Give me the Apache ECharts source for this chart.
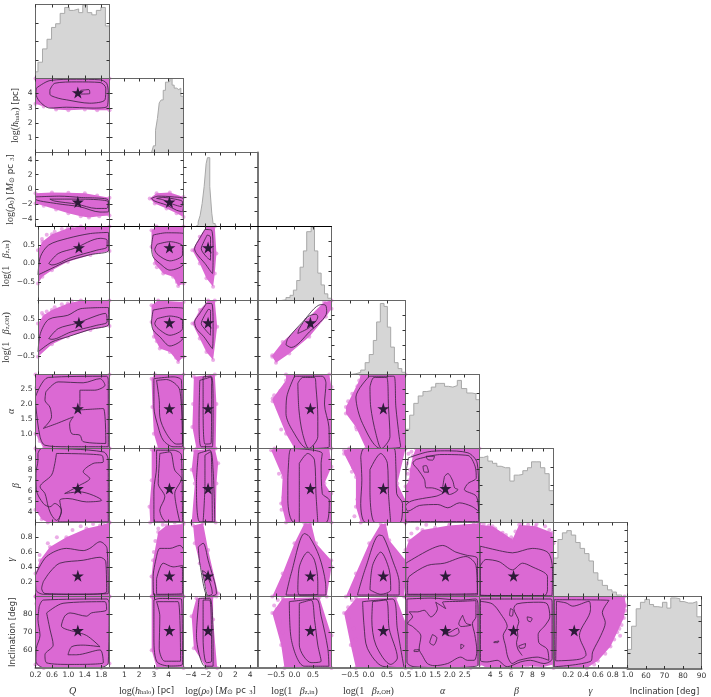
<!DOCTYPE html>
<html>
<head>
<meta charset="utf-8">
<style>
  html, body { margin: 0; padding: 0; background: #fff; }
  #chart { width: 711px; height: 697px; }
</style>
<script src="https://cdn.jsdelivr.net/npm/echarts@6/dist/echarts.min.js"></script>
</head>
<body>
<div id="chart"></div>
<script>
// parameter order: Q, H = log h_halo, R = log rho0, I = beta z,in, O = beta z,OH, A = alpha, B = beta, G = gamma, N = inclination
const ranges = [[0.2, 2], [0, 5], [-5, 5], [-1, 1], [-1, 1], [0.5, 3], [3, 10], [0, 1], [50, 90]];
const decimals = [1, 0, 0, 1, 1, 1, 0, 1, 0];
const xTicks = [
  [0.2, 0.6, 1.0, 1.4, 1.8], [1, 2, 3, 4], [-4, -2, 0, 2, 4], [-0.5, 0, 0.5], [-0.5, 0, 0.5],
  [0.5, 1, 1.5, 2, 2.5], [4, 5, 6, 7, 8, 9], [0.2, 0.4, 0.6, 0.8, 1], [60, 70, 80, 90]
];
const yTicks = [
  [0.6, 1, 1.4, 1.8], [1, 2, 3, 4], [-4, -2, 0, 2, 4], [-0.5, 0, 0.5], [-0.5, 0, 0.5],
  [1, 1.5, 2, 2.5], [4, 5, 6, 7, 8, 9], [0.2, 0.4, 0.6, 0.8], [60, 70, 80]
];
const histTicks = [
  [0.25, 0.5, 0.75], [0.2, 0.4, 0.6, 0.8], [0.2, 0.4, 0.6, 0.8], [0.2, 0.4, 0.6, 0.8], [0.2, 0.4, 0.6, 0.8],
  [0.25, 0.5, 0.75], [0.25, 0.5, 0.75], [0.15, 0.3, 0.45, 0.6, 0.75, 0.9], [0.22, 0.44, 0.66, 0.88]
];
const trueValues = [1.23, 4.05, -1.68, 0.43, 0.4, 1.85, 6.22, 0.28, 71];

const xNames = [
  '{m|Q}',
  '{r|log(}{m|h}{s|halo}{r|)}{t| [pc]}',
  '{r|log(}{m|ρ}{s|0}{r|)}{t| [}{m|M}{s|⊙}{t| pc}{s|  3}{t|]}',
  '{r|log(1   }{m|β}{s|z,in}{r|)}',
  '{r|log(1   }{m|β}{s|z,OH}{r|)}',
  '{m|α}', '{m|β}', '{m|γ}', '{t|Inclination [deg]}'
];
const yGaps = [0, 15, 20, 27, 27, 19, 14, 17, 18];

// histograms: left bin edges (last one closes the range) and heights relative to the panel
const edgesQ = [0.2, 0.26, 0.37, 0.48, 0.59, 0.69, 0.8, 0.91, 1.02, 1.13, 1.25, 1.35, 1.46, 1.57, 1.68, 1.79, 1.9, 2];
const histQ = [0.09, 0.22, 0.4, 0.53, 0.69, 0.74, 0.88, 0.96, 0.92, 0.94, 0.89, 0.99, 0.89, 0.86, 0.92, 0.96, 0.71];
const edgesH = [2.84, 2.97, 3.11, 3.24, 3.36, 3.49, 3.63, 3.78, 3.92, 4.08, 4.23, 4.37, 4.53, 4.68, 4.82, 5];
const histH = [0.02, 0.09, 0.3, 0.46, 0.67, 0.71, 0.84, 0.95, 0.96, 1, 0.91, 0.87, 0.85, 0.87, 0.76];
const edgesR = [-3.38, -3.02, -2.75, -2.48, -2.21, -1.94, -1.76, -1.45, -1.18, -1, -0.72, -0.45];
const histR = [0.02, 0.06, 0.15, 0.31, 0.54, 0.85, 0.93, 0.54, 0.18, 0.04, 0.01];
const edgesI = [-0.36, -0.23, -0.12, -0.03, 0.06, 0.15, 0.24, 0.33, 0.45, 0.54, 0.63, 0.72, 0.81, 0.9, 1];
const histI = [0.01, 0.04, 0.07, 0.14, 0.27, 0.45, 0.67, 0.93, 0.99, 0.67, 0.37, 0.21, 0.09, 0.03];
const edgesO = [-0.48, -0.34, -0.21, -0.09, 0.02, 0.13, 0.22, 0.32, 0.42, 0.51, 0.6, 0.7, 0.8, 0.9, 1];
const histO = [0.01, 0.03, 0.06, 0.16, 0.27, 0.46, 0.71, 0.96, 0.92, 0.64, 0.37, 0.16, 0.08, 0.03];
const edgesA = [0.5, 0.64, 0.78, 0.93, 1.09, 1.22, 1.37, 1.52, 1.66, 1.82, 1.95, 2.1, 2.25, 2.39, 2.57, 2.74, 2.88, 3];
const histA = [0.26, 0.45, 0.61, 0.71, 0.77, 0.78, 0.83, 0.88, 0.88, 0.84, 0.83, 0.85, 0.92, 0.81, 0.75, 0.74, 0.66];
const edgesB = [3, 3.38, 3.79, 4.23, 4.64, 5.05, 5.46, 5.87, 6.28, 6.69, 7.1, 7.54, 7.92, 8.36, 8.77, 9.18, 9.59, 10];
const histB = [0.88, 0.9, 0.83, 0.8, 0.76, 0.74, 0.74, 0.56, 0.64, 0.65, 0.7, 0.74, 0.82, 0.82, 0.74, 0.66, 0.43];
const edgesG = [0, 0.06, 0.12, 0.18, 0.24, 0.3, 0.36, 0.42, 0.48, 0.54, 0.6, 0.66, 0.73, 0.79, 0.85, 0.92];
const histG = [0.52, 0.77, 0.86, 0.89, 0.83, 0.73, 0.65, 0.58, 0.48, 0.32, 0.22, 0.15, 0.09, 0.06, 0.02];
const edgesN = [50, 52.2, 54.7, 57, 59.4, 61.9, 64.1, 66.4, 68.9, 71.3, 73.4, 75.9, 78.3, 80.6, 83, 85.3, 87.5, 90];
const histN = [0.27, 0.59, 0.83, 0.92, 0.96, 0.89, 0.86, 0.85, 0.92, 0.84, 0.98, 0.97, 0.93, 0.91, 0.91, 0.93, 0.72];
const hists = [[edgesQ, histQ], [edgesH, histH], [edgesR, histR], [edgesI, histI], [edgesO, histO], [edgesA, histA], [edgesB, histB], [edgesG, histG], [edgesN, histN]];

// clouds and contours, [x, y] in data units; name = y param + x param
const cloudHQ = [[0.2, 5], [2, 5], [2, 2.85], [1.7, 2.85], [1.4, 2.9], [1, 2.85], [0.7, 2.9], [0.4, 3.1], [0.2, 3.3]];
const outerHQ = [[0.22, 4.35], [0.55, 4.86], [1.2, 4.95], [1.77, 4.91], [1.93, 4.68], [1.97, 4], [1.94, 3.1], [1.6, 3], [0.95, 3.06], [0.55, 3], [0.3, 3.45], [0.21, 4]];
const innerHQ = [[0.55, 4.23], [0.67, 4.68], [1.2, 4.77], [1.77, 4.73], [1.91, 4.35], [1.89, 3.56], [1.52, 3.33], [0.95, 3.56], [0.75, 3.67], [0.55, 3.94]];
const isleHQ = [[1.3, 4.2], [1.5, 4.25], [1.52, 3.98], [1.3, 3.95]];

const cloudRQ = [[0.2, -0.5], [0.6, -0.4], [1, -0.45], [1.4, -0.5], [1.7, -0.8], [2, -1.1], [2, -3.5], [1.75, -3.6], [1.5, -3.8], [1.3, -3.6], [1, -3.2], [0.7, -2.7], [0.4, -2.2], [0.2, -1.9]];
const outerRQ = [[0.2, -1], [0.79, -0.9], [1.28, -1.07], [1.97, -1.43], [1.98, -3], [1.77, -3.05], [1.28, -2.33], [0.71, -1.9], [0.2, -1.3]];
const innerRQ = [[0.55, -1.3], [1.2, -1.3], [1.97, -1.66], [1.93, -2.56], [1.68, -2.56], [1.2, -1.97], [0.67, -1.57]];
const cloudRH = [[2.72, -1.2], [3.18, -0.5], [4.08, -0.4], [5, -1], [5, -3.7], [4.53, -3.2], [3.85, -2.56], [3.06, -1.9]];
const outerRH = [[2.84, -1.2], [3.29, -0.9], [4.3, -1], [5, -1.3], [4.93, -3], [4.53, -2.8], [3.85, -2.1], [3.06, -1.57]];
const innerRH = [[3.18, -1.2], [3.63, -1.07], [4.3, -1.25], [4.93, -1.66], [4.86, -2.3], [4.3, -2], [3.63, -1.4]];

const cloudIQ = [[0.2, 0.36], [0.31, 0.59], [0.55, 0.79], [0.95, 0.95], [1.28, 1], [2, 1], [2, 0.34], [1.52, 0.23], [0.95, 0.05], [0.55, -0.18], [0.31, -0.36], [0.2, -0.54]];
const outerIQ = [[0.2, -0.31], [0.26, 0.18], [0.47, 0.5], [0.95, 0.68], [1.52, 0.81], [1.97, 0.84], [1.98, 0.36], [1.52, 0.24], [0.95, 0.07], [0.55, -0.13]];
const innerIQ = [[0.47, 0], [0.71, 0.27], [1.12, 0.41], [1.77, 0.68], [1.94, 0.63], [1.94, 0.45], [1.68, 0.36], [1.03, 0.16], [0.55, -0.04]];
const cloudIH = [[2.84, 0.9], [3.18, 1], [5, 1], [5, -0.54], [4.64, -0.61], [4.3, -0.36], [3.63, -0.27], [3.06, 0], [2.84, 0.45]];
const outerIH = [[2.95, 0.77], [3.85, 0.83], [5, 0.81], [5, 0], [4.08, -0.18], [3.4, 0], [2.95, 0.18], [2.84, 0.45]];
const innerIH = [[3.22, 0.52], [4.08, 0.59], [4.93, 0.47], [4.93, 0.23], [4.08, 0.07], [3.29, 0.23], [3.06, 0.38]];
const cloudIR = [[-1.9, 1], [-0.77, 1], [-0.55, 0.27], [-0.77, -0.27], [-1, -0.63], [-1.9, -0.4], [-2.8, 0], [-3.8, 0.36], [-2.8, 0.72]];
const outerIR = [[-2.1, 0.92], [-1.2, 0.9], [-1, 0.27], [-1.1, -0.27], [-2.1, 0], [-3.25, 0.27], [-3.5, 0.4], [-2.8, 0.68]];
const innerIR = [[-1.8, 0.77], [-1.35, 0.72], [-1.35, 0.09], [-1.9, 0.18], [-2.6, 0.4], [-2.25, 0.59]];

const cloudOQ = [[0.2, 0.38], [0.34, 0.6], [0.55, 0.74], [0.95, 0.92], [1.28, 1], [2, 1], [2, 0.31], [1.52, 0.2], [0.95, 0.02], [0.55, -0.18], [0.2, -0.52]];
const outerOQ = [[0.2, -0.39], [0.26, 0.11], [0.47, 0.49], [0.95, 0.6], [1.28, 0.78], [1.97, 0.81], [1.98, 0.36], [1.52, 0.22], [0.95, 0.02], [0.55, -0.12]];
const innerOQ = [[0.47, -0.03], [0.71, 0.24], [1.16, 0.38], [1.9, 0.65], [1.94, 0.42], [1.68, 0.33], [1.03, 0.15], [0.55, -0.05]];
const cloudOH = [[2.84, 0.87], [3.29, 1], [5, 0.96], [5, -0.52], [4.64, -0.66], [4.08, -0.39], [3.4, -0.3], [3, 0.02], [2.84, 0.42]];
const outerOH = [[2.95, 0.74], [4.08, 0.81], [5, 0.78], [5, 0.02], [4.08, -0.23], [3.4, 0.02], [2.95, 0.2], [2.84, 0.42]];
const innerOH = [[3.22, 0.51], [4.08, 0.58], [4.93, 0.47], [4.93, 0.24], [4.08, 0.06], [3.29, 0.24], [3.06, 0.38]];
const cloudOR = [[-1.67, 1], [-0.77, 1], [-0.45, 0.29], [-1, -0.61], [-1.9, -0.39], [-2.8, -0.03], [-3.8, 0.38], [-2.8, 0.74]];
const outerOR = [[-1.9, 0.92], [-1.2, 0.92], [-1, 0.29], [-1.1, -0.3], [-2.25, 0.02], [-3.25, 0.24], [-3.5, 0.42], [-2.8, 0.65]];
const innerOR = [[-1.67, 0.76], [-1.35, 0.74], [-1.35, 0.06], [-2, 0.2], [-2.6, 0.38], [-2.25, 0.56]];
const cloudOI = [[-0.6, -0.52], [-0.5, -0.68], [-0.14, -0.43], [0.4, 0.02], [0.85, 0.56], [1, 0.78], [1, 1], [0.8, 0.96], [0.31, 0.47], [-0.32, -0.12], [-0.6, -0.48]];
const outerOI = [[-0.23, -0.2], [-0.09, -0.27], [0.4, 0.15], [0.87, 0.69], [0.84, 0.87], [0.72, 0.89], [0.22, 0.42], [-0.18, -0.03]];
const innerOI = [[0.09, 0.11], [0.4, 0.27], [0.63, 0.56], [0.58, 0.63], [0.36, 0.56], [0.13, 0.24]];

const cloudAQ = [[0.2, 3], [2, 3], [2, 0.5], [0.4, 0.5], [0.3, 0.75], [0.2, 1]];
const outerAQ = [[0.2, 2.25], [0.51, 2.9], [1.93, 2.94], [1.97, 2.8], [1.97, 0.56], [0.95, 0.56], [0.43, 0.61], [0.31, 0.9], [0.21, 1.9]];
const innerAQ = [[0.45, 2.41], [0.75, 2.75], [1.36, 2.72], [1.77, 2.86], [1.89, 2.64], [1.64, 2.47], [1.28, 2.47], [1.28, 1.96], [1.24, 1.8], [1.85, 1.85], [1.91, 0.67], [1.36, 0.73], [1.28, 0.95], [1.08, 1], [1.03, 1.34], [1.12, 1.57], [0.71, 1.34], [0.39, 1.18], [0.59, 1.57], [0.55, 1.9], [0.43, 2.13]];
const cloudAH = [[2.84, 2.86], [3.06, 3], [5, 3], [5, 0.5], [3.29, 0.5], [3, 1], [2.9, 1.9]];
const outerAH = [[3, 2.86], [4.3, 2.92], [4.86, 2.8], [4.93, 0.56], [4.3, 0.56], [3.63, 0.78], [3.29, 1.23], [3, 1.9]];
const innerAH = [[3.18, 2.8], [3.85, 2.83], [4.75, 2.47], [4.93, 0.67], [4.53, 0.65], [3.85, 1], [3.4, 1.57], [3.36, 2.13]];
const cloudAR = [[-3.6, 2.92], [-0.77, 3], [-0.55, 2], [-0.65, 0.5], [-3.25, 0.5], [-3.8, 1.23], [-3.7, 2]];
const outerAR = [[-2.8, 2.8], [-1.2, 2.92], [-1, 1.9], [-1.1, 0.56], [-2.6, 0.56], [-2.9, 1.46]];
const innerAR = [[-2.35, 2.92], [-1.35, 2.94], [-1.2, 2.7], [-1.27, 0.67], [-2.1, 0.65], [-2.35, 2]];
const cloudAI = [[-0.59, 2.19], [-0.23, 2.8], [-0.23, 3], [0.94, 3], [1, 2.58], [1, 0.5], [0, 0.5], [-0.23, 1], [-0.59, 2.1]];
const outerAI = [[0, 2.94], [0.75, 2.94], [0.85, 2.7], [0.81, 2], [0.93, 1.23], [0.94, 0.56], [0.36, 0.5], [-0.05, 1.1], [-0.23, 1.68], [-0.21, 2.24]];
const innerAI = [[0.09, 2.7], [0.22, 2.9], [0.54, 2.9], [0.58, 2.58], [0.63, 1.57], [0.63, 0.9], [0.39, 0.5], [0.22, 1], [0.12, 1.8]];
const cloudAO = [[-0.61, 1.9], [-0.25, 2.8], [-0.21, 3], [1, 3], [1, 0.5], [-0.07, 0.5], [-0.34, 1.23], [-0.61, 1.68]];
const outerAO = [[0.02, 2.94], [0.69, 2.94], [0.74, 1.9], [0.83, 0.9], [0.87, 0.56], [0.33, 0.5], [-0.16, 1.34], [-0.34, 2.24]];
const innerAO = [[0.04, 2.58], [0.15, 2.9], [0.49, 2.9], [0.54, 1.9], [0.58, 0.9], [0.35, 0.5], [0.2, 1], [0.06, 1.9]];

const cloudBQ = [[0.2, 10], [2, 10], [2, 3], [0.5, 3], [0.35, 3.3], [0.2, 4.2]];
const outerBQ = [[0.26, 9.53], [0.34, 10], [1.85, 9.68], [1.97, 8.9], [1.97, 3.06], [0.75, 3.06], [0.83, 4.17], [0.67, 4.8], [0.55, 4.48], [0.39, 4.8], [0.22, 6.1], [0.21, 7.64], [0.26, 8.9]];
const innerBQ = [[0.71, 9.53], [1.81, 9.37], [1.85, 8.74], [1.6, 8.58], [1.36, 7.8], [1.52, 7.16], [1.28, 6.53], [0.91, 5.74], [1.28, 5.9], [1.81, 5.1], [1.44, 4.95], [0.99, 5.27], [0.79, 5.1], [0.83, 4], [0.71, 3.2], [0.59, 3.7], [0.51, 4.48], [0.43, 5.74], [0.31, 6.37], [0.59, 7.48], [0.67, 8.58]];
const cloudBH = [[2.85, 9.9], [3.1, 10], [5, 10], [5, 3], [2.75, 3], [2.7, 4.5], [2.85, 7]];
const outerBH = [[3.18, 9.84], [4.3, 9.84], [4.86, 9.37], [4.93, 3.06], [3, 3.06], [3, 6.06], [3.18, 8.27]];
const innerBH = [[3.4, 9.53], [4.08, 9.68], [4.41, 7.95], [4.86, 7.16], [4.41, 5.74], [4.75, 3.06], [3.85, 3.06], [3.4, 4.17], [3.74, 5.43], [3.29, 6.69], [3.36, 8.58]];
const cloudBR = [[-3.6, 9.84], [-0.77, 10], [-0.32, 8.6], [-0.55, 6.7], [-0.65, 3], [-3.9, 3], [-3.47, 6.7], [-3.9, 8]];
const outerBR = [[-3, 9.53], [-1.45, 9.84], [-1, 7.95], [-0.77, 3.06], [-2.8, 3.06], [-3.25, 6.7]];
const innerBR = [[-2.1, 9.37], [-1.35, 9.68], [-1.2, 8.3], [-1.1, 3.06], [-2.35, 3.06], [-2.1, 6.7]];
const cloudBI = [[-0.54, 10], [0.94, 10], [1, 8.27], [0.81, 6.7], [0.99, 5.75], [1, 3], [-0.23, 3], [-0.36, 4.8], [-0.32, 7.3], [-0.63, 9.84]];
const outerBI = [[-0.15, 9.2], [-0.08, 10], [0.75, 9.53], [0.72, 8.58], [0.75, 5.75], [0.94, 5.1], [0.85, 3], [0, 3], [-0.18, 5.1], [-0.18, 7]];
const innerBI = [[0.13, 8.6], [0.36, 9.53], [0.54, 8.9], [0.58, 5.75], [0.63, 3], [0.13, 3], [0.13, 6]];
const cloudBO = [[-0.66, 9.84], [-0.52, 10], [1, 10], [0.78, 6.7], [1, 5.1], [1, 3], [-0.21, 3], [-0.34, 4.5], [-0.34, 7.3], [-0.66, 9.5]];
const outerBO = [[-0.21, 9.2], [-0.12, 10], [0.69, 10], [0.74, 8.27], [0.76, 5.75], [0.92, 4.8], [0.85, 3], [-0.07, 3], [-0.21, 4.8], [-0.18, 7]];
const innerBO = [[0.04, 8], [0.33, 9.53], [0.51, 8.6], [0.54, 5.75], [0.6, 3], [0.18, 3], [0.04, 6]];
const cloudBA = [[0.85, 10], [3, 10], [3, 3], [0.5, 3], [0.5, 6.4], [0.62, 7], [0.65, 8], [0.75, 9.3]];
const outerBA = [[0.6, 9.12], [1.25, 9.68], [1.82, 9.78], [2.61, 9.59], [2.92, 8.64], [2.97, 6.12], [2.97, 3.09], [0.52, 3.09], [0.5, 4.23], [0.52, 7.7]];
const innerBA = [[0.86, 8.96], [1.7, 9.43], [2.61, 9.34], [2.85, 8.33], [2.89, 7.22], [2.61, 6.69], [2.49, 6.12], [2.89, 5.49], [2.97, 4.07], [2.72, 4.55], [2.32, 4.86], [1.93, 4.39], [1.59, 4.7], [0.97, 4.61], [0.58, 4.07], [0.5, 4.55], [0.69, 5.02], [1.2, 5.33], [1.54, 5.49], [1.76, 5.81], [1.37, 6.28], [1.2, 6.28], [1.14, 7.07], [0.92, 8.01], [0.75, 8.64]];
const isleBA1 = [[1.82, 7.38], [1.93, 7.63], [2.1, 6.91], [2.16, 6.28], [2.27, 6.12], [1.99, 5.65], [1.76, 6.28]];
const isleBA2 = [[1.2, 9.27], [1.48, 9.27], [1.42, 8.9], [1.25, 8.96]];
const isleBA3 = [[1.09, 8.33], [1.2, 8.39], [1.28, 7.76], [1.14, 7.76]];

const cloudGQ = [[0.2, 0.31], [0.31, 0.49], [0.55, 0.67], [0.95, 0.8], [1.44, 0.92], [1.77, 0.96], [2, 1], [2, 0], [0.2, 0]];
const outerGQ = [[0.2, 0.29], [0.47, 0.54], [0.95, 0.65], [1.36, 0.62], [1.52, 0.65], [1.77, 0.74], [1.94, 0.65], [1.97, 0.04], [0.39, 0.03], [0.21, 0.09]];
const innerGQ = [[0.39, 0.2], [0.55, 0.33], [0.79, 0.45], [1.36, 0.49], [1.77, 0.53], [1.91, 0.47], [1.93, 0.06], [1.36, 0.03], [0.43, 0.04], [0.35, 0.11]];
const cloudGH = [[2.95, 0.49], [3.29, 0.87], [3.85, 0.96], [5, 0.98], [5, 0], [2.84, 0], [2.84, 0.27]];
const outerGH = [[3.18, 0.54], [3.4, 0.65], [4.08, 0.65], [4.75, 0.69], [5, 0.63], [5, 0.02], [3, 0.02], [2.95, 0.27]];
const innerGH = [[3.18, 0.24], [3.63, 0.45], [4.3, 0.4], [4.93, 0.42], [4.93, 0.04], [3.18, 0.03]];
const cloudGR = [[-3.7, 0.96], [-2.35, 0.99], [-1.67, 0.63], [-0.32, 0.04], [-0.55, 0], [-1.67, 0], [-2.8, 0.45], [-3.47, 0.72]];
const outerGR = [[-3, 0.67], [-2.35, 0.72], [-1.67, 0.49], [-0.55, 0.04], [-1.67, 0], [-2.8, 0.45]];
const innerGR = [[-2.45, 0.35], [-1.9, 0.31], [-1.1, 0.04], [-1.67, 0.01], [-2.25, 0.24]];
const cloudGI = [[-0.6, 0], [-0.32, 0.31], [0, 0.72], [0.27, 0.99], [0.45, 0.99], [0.58, 0.72], [0.99, 0.49], [1, 0.4], [0.87, 0]];
const outerGI = [[-0.23, 0.02], [-0.09, 0.31], [0.27, 0.85], [0.4, 0.81], [0.67, 0.54], [0.84, 0.18], [0.85, 0.02]];
const innerGI = [[0.09, 0.09], [0.13, 0.4], [0.36, 0.6], [0.54, 0.49], [0.63, 0.2], [0.63, 0.03], [0.13, 0.02]];
const cloudGO = [[-0.61, 0], [-0.34, 0.31], [0.02, 0.72], [0.33, 0.98], [0.47, 0.98], [0.56, 0.76], [1, 0.49], [1, 0.18], [0.96, 0]];
const outerGO = [[-0.3, 0.02], [-0.07, 0.4], [0.29, 0.83], [0.4, 0.81], [0.65, 0.49], [0.83, 0.18], [0.83, 0.02]];
const innerGO = [[0.04, 0.09], [0.11, 0.42], [0.33, 0.6], [0.56, 0.36], [0.6, 0.09], [0.33, 0.03]];
const cloudGA = [[0.5, 0.63], [0.62, 0.76], [1.07, 0.9], [1.97, 0.96], [3, 0.99], [3, 0], [0.5, 0]];
const outerGA = [[0.51, 0.45], [1.3, 0.63], [1.75, 0.69], [2.2, 0.6], [2.54, 0.56], [2.93, 0.51], [2.93, 0.02], [0.51, 0.02]];
const innerGA = [[0.57, 0.2], [0.62, 0.27], [1.24, 0.42], [1.81, 0.45], [2.54, 0.54], [2.88, 0.42], [2.93, 0.04], [0.57, 0.03]];
const cloudGB = [[3, 0.97], [4.23, 0.95], [5.18, 0.86], [6.12, 0.77], [6.75, 0.97], [8.3, 0.95], [9.9, 0.86], [10, 0.72], [10, 0], [3, 0]];
const outerGB = [[3.06, 0.68], [5.18, 0.61], [6.12, 0.59], [8, 0.65], [9.5, 0.59], [9.9, 0.36], [9.84, 0.01], [3.06, 0.01]];
const innerGB = [[3.06, 0.41], [3.6, 0.5], [4.86, 0.47], [6.12, 0.36], [7.07, 0.45], [7.86, 0.41], [9.43, 0.27], [9.43, 0.09], [9.12, 0.01], [3.06, 0.02]];

const cloudNQ = [[0.2, 90], [2, 90], [2, 52.5], [1.8, 50], [0.4, 50], [0.2, 52]];
const outerNQ = [[0.29, 84.4], [0.39, 88], [1.94, 88.6], [1.99, 86.2], [1.97, 52.9], [1.77, 50.2], [0.39, 50.2], [0.21, 53.8], [0.22, 61], [0.31, 68.2], [0.26, 77.2]];
const innerNQ = [[0.47, 80.8], [0.87, 86.2], [1.89, 87.1], [1.93, 82.6], [1.56, 80.8], [1.44, 79], [1.04, 80.8], [0.91, 79], [0.83, 73.6], [1.44, 68.2], [1.77, 61.9], [1.36, 62.8], [1.08, 61.9], [0.99, 57.4], [1.2, 57.4], [1.77, 60.1], [1.85, 52.9], [1.04, 52], [0.47, 52.9], [0.43, 57.4], [0.63, 62.8], [0.55, 71.8]];
const cloudNH = [[2.85, 90], [5, 90], [5, 50], [3.2, 50], [2.85, 60]];
const outerNH = [[3, 88], [3.4, 88.9], [4.86, 88.6], [4.93, 52], [4.08, 51.1], [3.18, 53.8], [3, 68]];
const innerNH = [[3.18, 87.1], [4.64, 87.1], [4.8, 53.8], [3.74, 53.8], [3.36, 61], [3.4, 79]];
const cloudNR = [[-3.25, 89], [-1, 90], [-1, 77.2], [-0.45, 50], [-1.9, 50], [-3.6, 61], [-3.9, 79]];
const outerNR = [[-2.9, 89], [-1.45, 89], [-1, 57.4], [-1, 51], [-2.1, 51], [-3.25, 68]];
const innerNR = [[-2.35, 88], [-1.45, 88], [-1.2, 53.8], [-1.9, 53], [-2.35, 66]];
const cloudNI = [[-0.6, 80.8], [-0.32, 89], [0.67, 89.6], [1, 68.2], [1, 50], [-0.27, 50], [-0.36, 62.8]];
const outerNI = [[-0.14, 87.1], [0.58, 88.6], [0.72, 79], [0.9, 61], [0.93, 51], [0.27, 51], [-0.09, 66.4]];
const innerNI = [[0.13, 86.2], [0.45, 88], [0.54, 77.2], [0.63, 62.8], [0.72, 53.8], [0.45, 53], [0.13, 62.8]];
const cloudNO = [[-0.66, 80.8], [-0.34, 89], [0.74, 89.6], [1, 75.4], [1, 50], [-0.34, 50], [-0.48, 62.8]];
const outerNO = [[-0.16, 87.1], [0.65, 88.6], [0.78, 71.8], [0.96, 50.2], [0.38, 51], [-0.03, 61], [-0.12, 73.6]];
const innerNO = [[0.11, 87.1], [0.47, 88], [0.56, 71.8], [0.78, 55.6], [0.6, 52], [0.2, 62.8], [0.09, 77.2]];
const cloudNA = [[0.5, 90], [3, 90], [3, 52], [2.7, 50], [0.7, 50], [0.5, 51]];
const outerNA = [[0.55, 88.6], [1.36, 89.1], [2.37, 88], [2.88, 88.6], [2.95, 84.1], [2.95, 51.6], [1.81, 50.2], [0.79, 50.7], [0.55, 53.4]];
const innerNA = [[0.62, 81.4], [0.91, 81.4], [1.13, 82.3], [1.36, 78.6], [1.58, 83.2], [1.52, 86.8], [1.86, 83.2], [1.75, 86.8], [2.37, 87.3], [2.88, 87.7], [2.88, 78.6], [2.76, 75], [2.84, 68.7], [2.91, 59.7], [2.82, 54.3], [2.59, 54.3], [2.37, 56.1], [1.92, 52.5], [1.47, 51.3], [1.24, 52.5], [1.07, 57], [0.96, 60.6], [1.02, 67.8], [0.74, 73.2], [0.57, 75], [0.74, 78.6]];
const isleNA1 = [[2.43, 79.5], [2.55, 75], [2.72, 74.1], [2.38, 73.2], [2.3, 74.7]];
const isleNA2 = [[1.81, 70.5], [1.92, 69.6], [2.26, 72.3], [2.31, 70], [2.09, 67.8], [1.86, 68.7]];
const isleNA3 = [[1.41, 68.7], [1.56, 66.9], [1.45, 62.8], [1.32, 64.2]];
const isleNA4 = [[2.37, 63.3], [2.48, 62.4], [2.37, 60.6]];
const isleNA5 = [[0.79, 60.1], [0.96, 60.3], [0.93, 59.2], [0.79, 59.2]];
const cloudNB = [[3, 90], [10, 90], [10, 52], [9, 50.5], [7.5, 51], [6, 50], [3.6, 50.5], [3, 52]];
const outerNB = [[3.09, 88.6], [9.78, 88.6], [9.87, 85.9], [9.87, 55.2], [9.09, 52.5], [7.82, 54.3], [6.88, 53.4], [5.62, 50.7], [4.67, 54.3], [3.73, 53.4], [3.09, 54.3]];
const innerNB = [[3.03, 87.3], [4.2, 85.9], [4.99, 80.4], [5.62, 73.2], [5.24, 68.2], [5.46, 62.4], [5.68, 56.1], [6.09, 52.5], [6.72, 54.3], [8.45, 56.1], [9.56, 54.3], [9.4, 60.6], [8.61, 64.2], [8.55, 68.7], [9.24, 74.1], [9.65, 78.6], [9.4, 85.9], [8.61, 86.8], [6.56, 85.9], [6.25, 83.2], [6.72, 75.9], [6.56, 72.3], [6.63, 67.8], [6.5, 64.2], [6.63, 60.6], [7.04, 57]];
const isleNB1 = [[5.93, 83.2], [6.18, 82.3], [6.09, 79], [5.84, 79.5]];
const isleNB2 = [[6.72, 62.4], [7.35, 63.7], [7.29, 61.5], [6.82, 61]];
const isleNB3 = [[7.51, 78.6], [7.98, 77.7], [7.82, 75.9], [7.57, 76.5]];
const isleNB4 = [[4.36, 64.6], [4.83, 65.1], [4.73, 64.2], [4.36, 64.2]];
const cloudNG = [[0, 90], [0.96, 90], [0.98, 85], [0.95, 78], [0.86, 70], [0.77, 62], [0.6, 54], [0.45, 50], [0, 50]];
const outerNG = [[0.01, 88.2], [0.75, 87.8], [0.66, 81], [0.7, 75.4], [0.64, 68.2], [0.53, 59.1], [0.5, 53.7], [0.01, 50.7]];
const innerNG = [[0.04, 87.3], [0.17, 86.4], [0.26, 84.6], [0.48, 87.3], [0.5, 82.8], [0.35, 68.2], [0.44, 57.4], [0.35, 54.9], [0.03, 54]];

// loose points outside the dense part of each cloud
const strayIQ = [[0.3, 0.66], [0.42, 0.78], [0.62, 0.86], [0.8, 0.93], [1.05, 0.98]];
const strayOQ = [[0.3, 0.66], [0.42, 0.7], [0.62, 0.82], [0.8, 0.9], [1.05, 0.98]];
const strayIH = [[4.7, -0.42], [4.55, -0.5], [4.8, -0.3], [3.2, -0.1]];
const strayOH = [[4.7, -0.5], [4.5, -0.55], [4.85, -0.35], [3.2, -0.1]];
const strayAI = [[-0.55, 2.3], [-0.45, 1.85], [-0.36, 1.14], [-0.38, 2.45], [-0.25, 2.65]];
const strayAO = [[-0.55, 2.1], [-0.44, 2.35], [-0.32, 1.14], [-0.45, 1.75], [-0.3, 2.6]];
const strayAQ = [[0.25, 2.75], [0.28, 2.9], [0.22, 2.55], [0.3, 0.85]];
const strayBI = [[-0.45, 9.3], [-0.35, 8.4], [-0.42, 7.6], [-0.3, 5.4], [-0.35, 4.2]];
const strayBO = [[-0.5, 9.2], [-0.42, 8.2], [-0.3, 5.2], [-0.38, 3.6], [-0.45, 7.8]];
const strayBA = [[0.6, 9.5], [0.7, 9.7], [0.55, 8.6], [0.58, 7.6]];
const strayGQ = [[0.3, 0.56], [0.5, 0.72], [0.72, 0.8], [1.1, 0.9], [1.3, 0.95], [1.6, 0.98], [1.85, 1]];
const strayGH = [[3.1, 0.75], [3.3, 0.92], [3.6, 0.97], [4.4, 1], [3, 0.6]];
const strayGA = [[0.7, 0.85], [0.9, 0.92], [1.2, 0.97], [1.5, 0.93], [2, 0.99], [2.5, 0.96], [2.8, 1]];
const strayGB = [[3.4, 0.98], [3.9, 0.96], [4.5, 0.92], [5, 0.84], [5.5, 0.83], [6, 0.8], [6.4, 0.88], [7, 0.99], [7.6, 0.97], [8.4, 0.98], [9.2, 0.95], [9.6, 0.9]];
const strayNG = [[0.97, 82], [0.92, 74], [0.89, 72], [0.82, 66], [0.7, 58], [0.55, 52], [0.9, 68]];
const strayNQ = [[0.22, 86], [0.28, 88], [0.24, 82], [0.26, 77]];
const strayNI = [[-0.55, 85], [-0.45, 88], [-0.4, 76], [-0.48, 83], [-0.32, 70]];
const strayNO = [[-0.55, 84], [-0.45, 88], [-0.4, 72], [-0.55, 78], [-0.35, 66]];

// [x param, y param, cloud, closed contours, loose points, open contour]
const panels = [
  [0, 1, cloudHQ, [outerHQ, innerHQ, isleHQ]],
  [0, 2, cloudRQ, [outerRQ, innerRQ]], [1, 2, cloudRH, [outerRH, innerRH]],
  [0, 3, cloudIQ, [outerIQ, innerIQ], strayIQ], [1, 3, cloudIH, [outerIH, innerIH], strayIH], [2, 3, cloudIR, [outerIR, innerIR]],
  [0, 4, cloudOQ, [outerOQ, innerOQ], strayOQ], [1, 4, cloudOH, [outerOH, innerOH], strayOH], [2, 4, cloudOR, [outerOR, innerOR]], [3, 4, cloudOI, [outerOI, innerOI]],
  [0, 5, cloudAQ, [outerAQ, innerAQ], strayAQ], [1, 5, cloudAH, [outerAH, innerAH]], [2, 5, cloudAR, [outerAR, innerAR]], [3, 5, cloudAI, [outerAI, innerAI], strayAI], [4, 5, cloudAO, [outerAO, innerAO], strayAO],
  [0, 6, cloudBQ, [outerBQ, innerBQ]], [1, 6, cloudBH, [outerBH, innerBH]], [2, 6, cloudBR, [outerBR, innerBR]], [3, 6, cloudBI, [outerBI, innerBI], strayBI], [4, 6, cloudBO, [outerBO, innerBO], strayBO],
  [5, 6, cloudBA, [outerBA, innerBA, isleBA1, isleBA2, isleBA3], strayBA],
  [0, 7, cloudGQ, [outerGQ, innerGQ], strayGQ], [1, 7, cloudGH, [outerGH, innerGH], strayGH], [2, 7, cloudGR, [outerGR, innerGR]], [3, 7, cloudGI, [outerGI, innerGI]], [4, 7, cloudGO, [outerGO, innerGO]],
  [5, 7, cloudGA, [outerGA, innerGA], strayGA], [6, 7, cloudGB, [outerGB, innerGB], strayGB],
  [0, 8, cloudNQ, [outerNQ, innerNQ], strayNQ], [1, 8, cloudNH, [outerNH, innerNH]], [2, 8, cloudNR, [outerNR, innerNR]], [3, 8, cloudNI, [outerNI, innerNI], strayNI], [4, 8, cloudNO, [outerNO, innerNO], strayNO],
  [5, 8, cloudNA, [outerNA, innerNA, isleNA1, isleNA2, isleNA3, isleNA4, isleNA5]],
  [6, 8, cloudNB, [outerNB, isleNB1, isleNB2, isleNB3, isleNB4], null, innerNB],
  [7, 8, cloudNG, [outerNG, innerNG], strayNG]
];

const MAGENTA = '#db69d3';
const STAR = 'path://M50 0L61 35L98 35L68 57L79 91L50 70L21 91L32 57L2 35L39 35Z';
const SIZE = 74, LEFT = 35.5, TOP = 4.5;

const rich = {
  r: { fontFamily: 'Liberation Serif', fontSize: 10, color: '#333' },
  m: { fontFamily: 'Liberation Serif', fontStyle: 'italic', fontSize: 10, color: '#333' },
  s: { fontFamily: 'Liberation Serif', fontSize: 6.5, color: '#333', verticalAlign: 'bottom' },
  t: { fontFamily: 'DejaVu Sans', fontSize: 8.5, color: '#333' }
};

function labelText(p) {
  return v => v.toFixed(decimals[p]).replace('-', '−');
}

let grid = [], xAxis = [], yAxis = [], series = [];

function addAxes(col, row, yRange, yTickList, withY) {
  let g = grid.length;
  grid.push({ left: LEFT + col * SIZE, top: TOP + row * SIZE, width: SIZE, height: SIZE });
  let spine = { show: true, onZero: false, lineStyle: { color: '#666', width: 1 } };
  let tick = (list) => ({ show: true, inside: true, length: 3, customValues: list, lineStyle: { color: '#333', width: 1 } });
  let topSpine = row === 3 ? { show: true, onZero: false, lineStyle: { color: '#000', width: 1 } } : spine;
  let rightSpine = col === 2 ? { show: true, onZero: false, lineStyle: { color: '#777', width: 2 } } : spine;
  let bottomSpine = row === 8 ? { show: true, onZero: false, lineStyle: { color: '#777', width: 2 } } : spine;
  xAxis.push({
    type: 'value', gridIndex: g, position: 'bottom', min: ranges[col][0], max: ranges[col][1], z: 10,
    axisLine: bottomSpine, axisTick: tick(xTicks[col]), splitLine: { show: false },
    axisLabel: row === 8 ? { show: true, customValues: xTicks[col], formatter: labelText(col), fontFamily: 'DejaVu Sans', fontSize: 7.5, color: '#333', margin: 3 } : { show: false },
    name: row === 8 ? xNames[col] : '', nameLocation: 'middle', nameGap: 18, nameTextStyle: { rich: rich }
  });
  xAxis.push({
    type: 'value', gridIndex: g, position: 'top', min: ranges[col][0], max: ranges[col][1], z: 10,
    axisLine: topSpine, axisTick: tick(xTicks[col]), axisLabel: { show: false }, splitLine: { show: false }
  });
  yAxis.push({
    type: 'value', gridIndex: g, position: 'left', min: yRange[0], max: yRange[1], z: 10,
    axisLine: spine, axisTick: tick(yTickList), splitLine: { show: false },
    axisLabel: withY ? { show: true, customValues: yTickList, formatter: labelText(row), fontFamily: 'DejaVu Sans', fontSize: 7.5, color: '#333', margin: 3 } : { show: false },
    name: withY ? xNames[row] : '', nameLocation: 'middle', nameRotate: 90, nameGap: yGaps[row], nameTextStyle: { rich: rich }
  });
  yAxis.push({
    type: 'value', gridIndex: g, position: 'right', min: yRange[0], max: yRange[1], z: 10,
    axisLine: rightSpine, axisTick: tick(yTickList), axisLabel: { show: false }, splitLine: { show: false }
  });
  return g;
}

// diagonal histograms
hists.forEach(([edges, counts], p) => {
  let g = addAxes(p, p, [0, 1], histTicks[p], false);
  let pts = [[edges[0], 0]];
  counts.forEach((c, i) => pts.push([edges[i], c]));
  pts.push([edges[edges.length - 1], counts[counts.length - 1]]);
  pts.push([edges[edges.length - 1], 0]);
  series.push({
    type: 'line', xAxisIndex: g * 2, yAxisIndex: g * 2, data: pts, step: 'end', symbol: 'none', clip: true,
    lineStyle: { color: '#a8a8a8', width: 1 }, areaStyle: { color: '#d6d6d6', opacity: 1, origin: 'start' }
  });
});

// off-diagonal panels
panels.forEach(([c, r, cloud, lines, strays, open]) => {
  let g = addAxes(c, r, ranges[r], yTicks[r], c === 0);
  let axes = { xAxisIndex: g * 2, yAxisIndex: g * 2 };
  series.push(Object.assign({
    type: 'custom', clip: true, data: cloud, encode: { x: 0, y: 1 }, z: 2,
    renderItem: (params, api) => {
      if (params.dataIndex !== 0) return null;
      return { type: 'polygon', shape: { points: cloud.map(p => api.coord(p)) }, style: { fill: MAGENTA } };
    }
  }, axes));
  series.push(Object.assign({
    type: 'scatter', data: cloud.concat(strays || []), symbolSize: 4, z: 2, clip: true,
    itemStyle: { color: MAGENTA, opacity: 0.55 }
  }, axes));
  let contour = (pts) => Object.assign({
    type: 'line', data: pts, symbol: 'none', smooth: 0.3, z: 3, clip: true,
    lineStyle: { color: '#33203a', width: 0.8 }
  }, axes);
  lines.forEach(l => series.push(contour(l.concat([l[0]]))));
  if (open) series.push(contour(open));
  series.push(Object.assign({
    type: 'scatter', data: [[trueValues[c], trueValues[r]]], symbol: STAR, symbolSize: 12, z: 4,
    itemStyle: { color: '#2c1a38', opacity: 1 }
  }, axes));
});

let chart = echarts.init(document.getElementById('chart'), null, { renderer: 'canvas' });
chart.setOption({
  animation: false,
  backgroundColor: '#fff',
  grid: grid,
  xAxis: xAxis,
  yAxis: yAxis,
  series: series
});
</script>
</body>
</html>
